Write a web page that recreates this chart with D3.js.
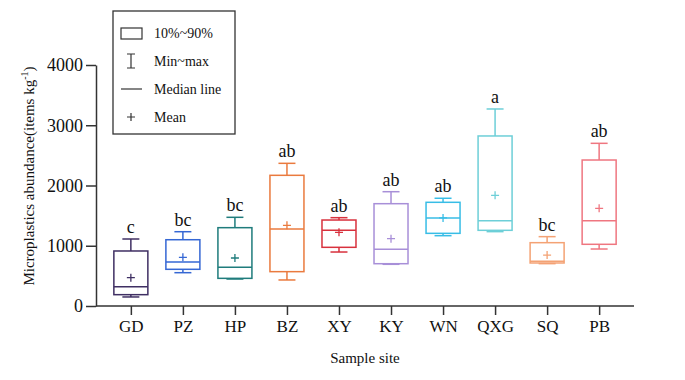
<!DOCTYPE html>
<html>
<head>
<meta charset="utf-8">
<script src="https://cdn.jsdelivr.net/npm/d3@7"></script>
<style>
  body { margin: 0; background: #fff; }
  svg text { font-family: "Liberation Serif", "Times New Roman", "DejaVu Serif", serif; fill: #111; }
</style>
</head>
<body>
<div id="chart"></div>
<script>
// data
var sites = ["GD", "PZ", "HP", "BZ", "XY", "KY", "WN", "QXG", "SQ", "PB"];
var minVals = [150, 553, 448, 432, 896, 692, 1167, 1234, 703, 946];
var p10Vals = [188, 609, 459, 570, 974, 702, 1206, 1256, 714, 1024];
var medianVals = [320, 730, 642, 1278, 1256, 941, 1461, 1416, 741, 1416];
var p90Vals = [913, 1100, 1300, 2169, 1427, 1698, 1721, 2822, 1051, 2423];
var maxVals = [1112, 1233, 1472, 2368, 1466, 1897, 1788, 3270, 1151, 2700];
var meanVals = [470, 808, 797, 1339, 1223, 1117, 1461, 1837, 846, 1621];
var letters = ["c", "bc", "bc", "ab", "ab", "ab", "ab", "a", "bc", "ab"];
var colors = ["#3f2f63", "#3567d4", "#1f7c7c", "#ea7a3e", "#d8313d", "#a88fd8", "#38bde6", "#6dcfd8", "#f4a274", "#ef7680"];
var yTicks = [0, 1000, 2000, 3000, 4000];
var legendLabels = ["10%~90%", "Min~max", "Median line", "Mean"];

var width = 685, height = 380;
var axisLeft = 96, axisRight = 634, axisBottom = 306, axisTop = 65;
var serif = "'Liberation Serif', 'Times New Roman', serif";

var svg = d3.select("#chart")
    .append("svg")
    .attr("width", width)
    .attr("height", height);

var x = d3.scalePoint()
    .domain(sites)
    .range([axisLeft, axisRight])
    .padding(0.67);

var y = d3.scaleLinear()
    .domain([0, 4000])
    .range([axisBottom, axisTop]);

// Y axis
var yAxis = svg.append("g")
    .attr("transform", "translate(" + axisLeft + ",0)")
    .call(d3.axisLeft(y).tickValues(yTicks).tickFormat(d3.format("d")).tickSize(10).tickSizeOuter(0).tickPadding(3));
yAxis.attr("font-family", serif).attr("font-size", 18);
yAxis.selectAll("line, path").attr("stroke", "#333").attr("stroke-width", 1.5);

// X axis
var xAxis = svg.append("g")
    .attr("transform", "translate(0," + axisBottom + ")")
    .call(d3.axisBottom(x).tickSize(9).tickSizeOuter(0).tickPadding(5));
xAxis.select(".domain").attr("d", "M" + axisLeft + ",0H" + axisRight);
xAxis.attr("font-family", serif).attr("font-size", 17);
xAxis.selectAll("line, path").attr("stroke", "#333").attr("stroke-width", 1.5);

// axis titles
svg.append("text")
    .attr("x", (axisLeft + axisRight) / 2)
    .attr("y", 363)
    .attr("text-anchor", "middle")
    .attr("font-size", 15)
    .text("Sample site");

var yTitle = svg.append("text")
    .attr("transform", "translate(34,176) rotate(-90)")
    .attr("text-anchor", "middle")
    .attr("font-size", 15);
yTitle.append("tspan").text("Microplastics abundance(items kg");
yTitle.append("tspan").attr("dy", -6).attr("font-size", 10).text("-1");
yTitle.append("tspan").attr("dy", 6).text(")");

// boxes
var boxW = 34, capW = 17, plus = 4;
var groups = svg.selectAll("g.box")
    .data(sites)
    .enter()
    .append("g")
    .attr("class", "box");

groups.each(function (s, i) {
    var g = d3.select(this);
    var cx = x(s);
    var c = colors[i];

    // whiskers
    g.append("line")
        .attr("x1", cx).attr("x2", cx)
        .attr("y1", y(maxVals[i])).attr("y2", y(p90Vals[i]))
        .attr("stroke", c).attr("stroke-width", 1.5);
    g.append("line")
        .attr("x1", cx).attr("x2", cx)
        .attr("y1", y(p10Vals[i])).attr("y2", y(minVals[i]))
        .attr("stroke", c).attr("stroke-width", 1.5);
    g.append("line")
        .attr("x1", cx - capW / 2).attr("x2", cx + capW / 2)
        .attr("y1", y(maxVals[i])).attr("y2", y(maxVals[i]))
        .attr("stroke", c).attr("stroke-width", 1.5);
    g.append("line")
        .attr("x1", cx - capW / 2).attr("x2", cx + capW / 2)
        .attr("y1", y(minVals[i])).attr("y2", y(minVals[i]))
        .attr("stroke", c).attr("stroke-width", 1.5);

    // box
    g.append("rect")
        .attr("x", cx - boxW / 2)
        .attr("y", y(p90Vals[i]))
        .attr("width", boxW)
        .attr("height", y(p10Vals[i]) - y(p90Vals[i]))
        .attr("fill", "none")
        .attr("stroke", c)
        .attr("stroke-width", 1.5);

    // median
    g.append("line")
        .attr("x1", cx - boxW / 2).attr("x2", cx + boxW / 2)
        .attr("y1", y(medianVals[i])).attr("y2", y(medianVals[i]))
        .attr("stroke", c).attr("stroke-width", 1.5);

    // mean
    g.append("path")
        .attr("d", "M" + (cx - plus) + "," + y(meanVals[i]) + "H" + (cx + plus) +
            "M" + cx + "," + (y(meanVals[i]) - plus) + "V" + (y(meanVals[i]) + plus))
        .attr("stroke", c).attr("stroke-width", 1.3);

    // significance letter
    g.append("text")
        .attr("x", cx)
        .attr("y", y(maxVals[i]) - 6)
        .attr("text-anchor", "middle")
        .attr("font-size", 18)
        .text(letters[i]);
});

// legend
var legend = svg.append("g");
legend.append("rect")
    .attr("x", 113).attr("y", 11)
    .attr("width", 122).attr("height", 123)
    .attr("fill", "#fff")
    .attr("stroke", "#333")
    .attr("stroke-width", 1.3);

var rowY = [33, 61, 89, 117];
var iconX = 131;

legend.append("rect")
    .attr("x", iconX - 10).attr("y", rowY[0] - 5)
    .attr("width", 21).attr("height", 11)
    .attr("fill", "none").attr("stroke", "#333").attr("stroke-width", 1.2);
legend.append("path")
    .attr("d", "M" + (iconX - 4) + "," + (rowY[1] - 7) + "H" + (iconX + 4) +
        "M" + iconX + "," + (rowY[1] - 7) + "V" + (rowY[1] + 7) +
        "M" + (iconX - 4) + "," + (rowY[1] + 7) + "H" + (iconX + 4))
    .attr("stroke", "#333").attr("stroke-width", 1.2).attr("fill", "none");
legend.append("line")
    .attr("x1", iconX - 10).attr("x2", iconX + 11)
    .attr("y1", rowY[2]).attr("y2", rowY[2])
    .attr("stroke", "#333").attr("stroke-width", 1.2);
legend.append("path")
    .attr("d", "M" + (iconX - 4) + "," + rowY[3] + "H" + (iconX + 4) +
        "M" + iconX + "," + (rowY[3] - 4) + "V" + (rowY[3] + 4))
    .attr("stroke", "#333").attr("stroke-width", 1.2);

legend.selectAll("text.leg")
    .data(legendLabels)
    .enter()
    .append("text")
    .attr("class", "leg")
    .attr("x", 154)
    .attr("y", function (d, i) { return rowY[i] + 5; })
    .attr("font-size", 14)
    .text(function (d) { return d; });
</script>
</body>
</html>
